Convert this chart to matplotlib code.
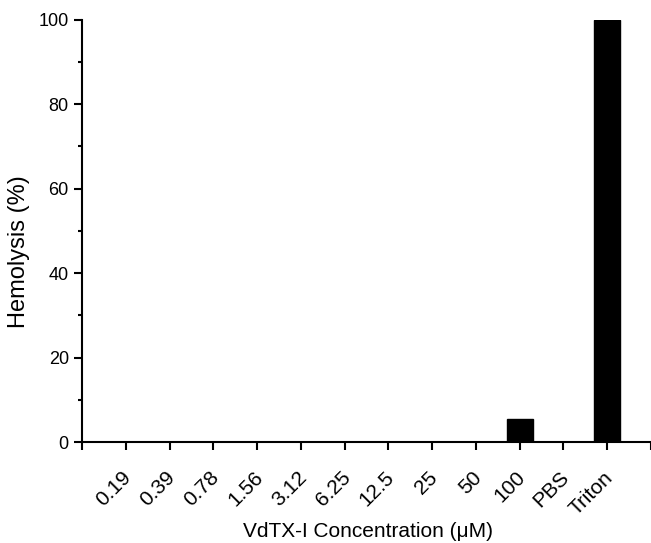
import matplotlib
matplotlib.use('Agg')
from matplotlib import pyplot as plt
from matplotlib.ticker import MultipleLocator
from matplotlib.transforms import ScaledTranslation
import numpy as np

plt.rcParams['font.family'] = ['Liberation Sans', 'DejaVu Sans']

labels = ['0.19', '0.39', '0.78', '1.56', '3.12', '6.25', '12.5', '25', '50', '100', 'PBS', 'Triton']
hemolysis = [0, 0, 0, 0, 0, 0, 0, 0, 0, 5.5, 0, 100]

fig = plt.figure(figsize=(6.51, 5.43), dpi=100)
ax = fig.add_axes([0.126, 0.186, 0.874, 0.778])

pos = np.arange(1, len(labels) + 1)
ax.bar(pos, hemolysis, width=0.6, color='black', edgecolor='black')

ax.set_xlim(0, len(labels) + 1)
ax.set_ylim(0, 100)
ax.set_xticks(np.arange(0, len(labels) + 2))
ax.set_xticklabels([''] + labels + [''], rotation=45, ha='right', rotation_mode='anchor')
ax.yaxis.set_major_locator(MultipleLocator(20))
ax.yaxis.set_minor_locator(MultipleLocator(10))

for s in ['top', 'right']:
    ax.spines[s].set_visible(False)
for s in ['left', 'bottom']:
    ax.spines[s].set_linewidth(1.5)
ax.tick_params(axis='both', which='major', direction='out', length=6, width=1.5, labelsize=13)
ax.tick_params(axis='x', pad=12.5, labelsize=15)
ax.tick_params(axis='y', which='minor', direction='out', length=3, width=1.5)

# nudge rotated labels a bit left
shift = ScaledTranslation(-0.04, 0, fig.dpi_scale_trans)
for t in ax.get_xticklabels():
    t.set_transform(t.get_transform() + shift)

ax.set_ylabel('Hemolysis (%)', fontsize=17)
ax.yaxis.set_label_coords(-0.091, 0.45)
ax.set_xlabel('VdTX-I Concentration (\u03bcM)', fontsize=15)
ax.xaxis.set_label_coords(0.503, -0.19)

fig.savefig('out.png', dpi=100)
